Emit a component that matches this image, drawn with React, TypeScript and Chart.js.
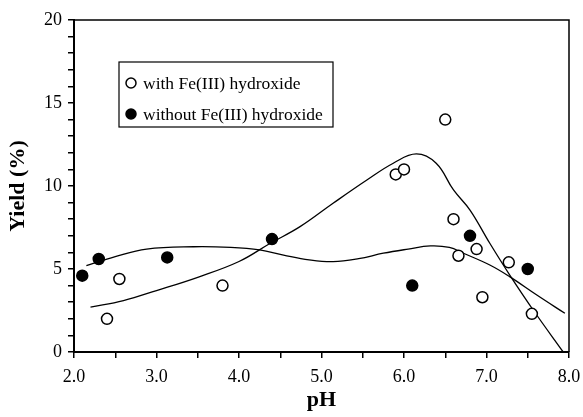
import React, { useEffect, useRef } from "react";
import { Chart, registerables } from "chart.js";

Chart.register(...registerables);

// Measured data points
const withFeX = [2.4, 2.55, 3.8, 5.9, 6.0, 6.5, 6.6, 6.66, 6.88, 6.95, 7.27, 7.55];
const withFeY = [2.0, 4.4, 4.0, 10.7, 11.0, 14.0, 8.0, 5.8, 6.2, 3.3, 5.4, 2.3];
const withoutFeX = [2.1, 2.3, 3.13, 4.4, 6.1, 6.8, 7.5];
const withoutFeY = [4.6, 5.6, 5.7, 6.8, 4.0, 7.0, 5.0];

// Fitted curves
const fitWithX = [2.2, 2.6, 3.0, 3.5, 4.0, 4.38, 4.74, 5.14, 5.55, 5.87, 6.15, 6.39, 6.6, 6.8, 7.04, 7.28, 7.57, 7.93];
const fitWithY = [2.7, 3.1, 3.7, 4.5, 5.45, 6.55, 7.55, 8.96, 10.36, 11.37, 11.93, 11.37, 9.76, 8.55, 6.55, 4.65, 2.5, 0.0];
const fitWithoutX = [2.15, 2.5, 2.88, 3.45, 3.9, 4.25, 4.54, 4.85, 5.14, 5.45, 5.75, 6.05, 6.32, 6.55, 6.72, 7.04, 7.28, 7.61, 7.95];
const fitWithoutY = [5.2, 5.75, 6.2, 6.34, 6.3, 6.15, 5.84, 5.55, 5.44, 5.62, 5.95, 6.2, 6.39, 6.3, 5.95, 5.24, 4.54, 3.43, 2.33];

const xTickLabels = ["2.0", "3.0", "4.0", "5.0", "6.0", "7.0", "8.0"];
const yTickLabels = ["0", "5", "10", "15", "20"];

const legendLabels = ["with Fe(III) hydroxide", "without Fe(III) hydroxide"];

const SERIF = "'Liberation Serif', 'Times New Roman', serif";

const zip = (xs: number[], ys: number[]) => xs.map((x, i) => ({ x, y: ys[i] }));

export default function App() {
  const ref = useRef<HTMLCanvasElement | null>(null);

  useEffect(() => {
    if (!ref.current) return;

    const framePlugin = {
      id: "frameAndLegend",
      afterDraw(chart: any) {
        const { ctx, chartArea } = chart;
        ctx.save();
        ctx.strokeStyle = "#000";
        ctx.lineWidth = 1.5;
        ctx.beginPath();
        ctx.moveTo(chartArea.left, chartArea.top);
        ctx.lineTo(chartArea.right, chartArea.top);
        ctx.lineTo(chartArea.right, chartArea.bottom);
        ctx.stroke();

        // legend box
        const bx = 119, by = 62, bw = 214, bh = 65;
        ctx.fillStyle = "#fff";
        ctx.fillRect(bx, by, bw, bh);
        ctx.lineWidth = 1.2;
        ctx.strokeRect(bx, by, bw, bh);
        const rows = [83, 114];
        ctx.font = `17.5px ${SERIF}`;
        ctx.textBaseline = "middle";
        ctx.textAlign = "left";
        rows.forEach((ry, i) => {
          ctx.beginPath();
          ctx.arc(131, ry, 5, 0, Math.PI * 2);
          ctx.fillStyle = i === 0 ? "#fff" : "#000";
          ctx.fill();
          ctx.lineWidth = 1.5;
          ctx.strokeStyle = "#000";
          ctx.stroke();
          ctx.fillStyle = "#000";
          ctx.fillText(legendLabels[i], 143, ry + 1);
        });
        ctx.restore();
      },
    };

    const chart = new Chart(ref.current, {
      type: "scatter",
      data: {
        datasets: [
          {
            label: "fit with",
            data: zip(fitWithX, fitWithY),
            showLine: true,
            pointRadius: 0,
            borderColor: "#000",
            borderWidth: 1.3,
            tension: 0.4,
            order: 3,
          } as any,
          {
            label: "fit without",
            data: zip(fitWithoutX, fitWithoutY),
            showLine: true,
            pointRadius: 0,
            borderColor: "#000",
            borderWidth: 1.3,
            tension: 0.4,
            order: 3,
          } as any,
          {
            label: legendLabels[0],
            data: zip(withFeX, withFeY),
            pointRadius: 5.5,
            pointBackgroundColor: "#fff",
            pointBorderColor: "#000",
            pointBorderWidth: 1.5,
            order: 1,
          },
          {
            label: legendLabels[1],
            data: zip(withoutFeX, withoutFeY),
            pointRadius: 5.5,
            pointBackgroundColor: "#000",
            pointBorderColor: "#000",
            pointBorderWidth: 1.5,
            order: 1,
          },
        ],
      },
      options: {
        responsive: false,
        animation: false,
        layout: { padding: { top: 20, right: 14, left: 0, bottom: 0 } },
        plugins: { legend: { display: false }, tooltip: { enabled: false } },
        scales: {
          x: {
            type: "linear",
            min: 2,
            max: 8,
            afterFit: (s: any) => {
              s.height = 65;
              s.paddingLeft = 0;
              s.paddingRight = 0;
            },
            ticks: {
              stepSize: 0.5,
              autoSkip: false,
              maxRotation: 0,
              color: "#000",
              padding: 8,
              font: { family: SERIF, size: 18 },
              callback: (v: any) => {
                const n = Number(v);
                const idx = Math.round(n - 2);
                return Math.abs(n - Math.round(n)) < 1e-6 ? xTickLabels[idx] : "";
              },
            },
            grid: { drawOnChartArea: false, drawTicks: true, tickLength: 6, color: "#000", lineWidth: 1.5 },
            border: { color: "#000", width: 2 },
            title: {
              display: true,
              text: "pH",
              color: "#000",
              font: { family: SERIF, size: 22, weight: "bold" },
              padding: { top: 0, bottom: 3 },
            },
          },
          y: {
            type: "linear",
            min: 0,
            max: 20,
            afterFit: (s: any) => {
              s.width = 74;
              s.paddingTop = 0;
              s.paddingBottom = 0;
            },
            ticks: {
              stepSize: 1,
              autoSkip: false,
              color: "#000",
              padding: 6,
              font: { family: SERIF, size: 18 },
              callback: (v: any) => {
                const n = Number(v);
                return n % 5 === 0 ? yTickLabels[n / 5] : "";
              },
            },
            grid: { drawOnChartArea: false, drawTicks: true, tickLength: 6, color: "#000", lineWidth: 1.5 },
            border: { color: "#000", width: 2 },
            title: {
              display: true,
              text: "Yield (%)",
              color: "#000",
              font: { family: SERIF, size: 22, weight: "bold" },
              padding: { top: 5, bottom: 0 },
            },
          },
        },
      },
      plugins: [framePlugin],
    });

    return () => chart.destroy();
  }, []);

  return (
    <div style={{ position: "fixed", left: 0, top: 0, width: 583, height: 417, background: "#fff" }}>
      <canvas ref={ref} width={583} height={417} />
    </div>
  );
}
